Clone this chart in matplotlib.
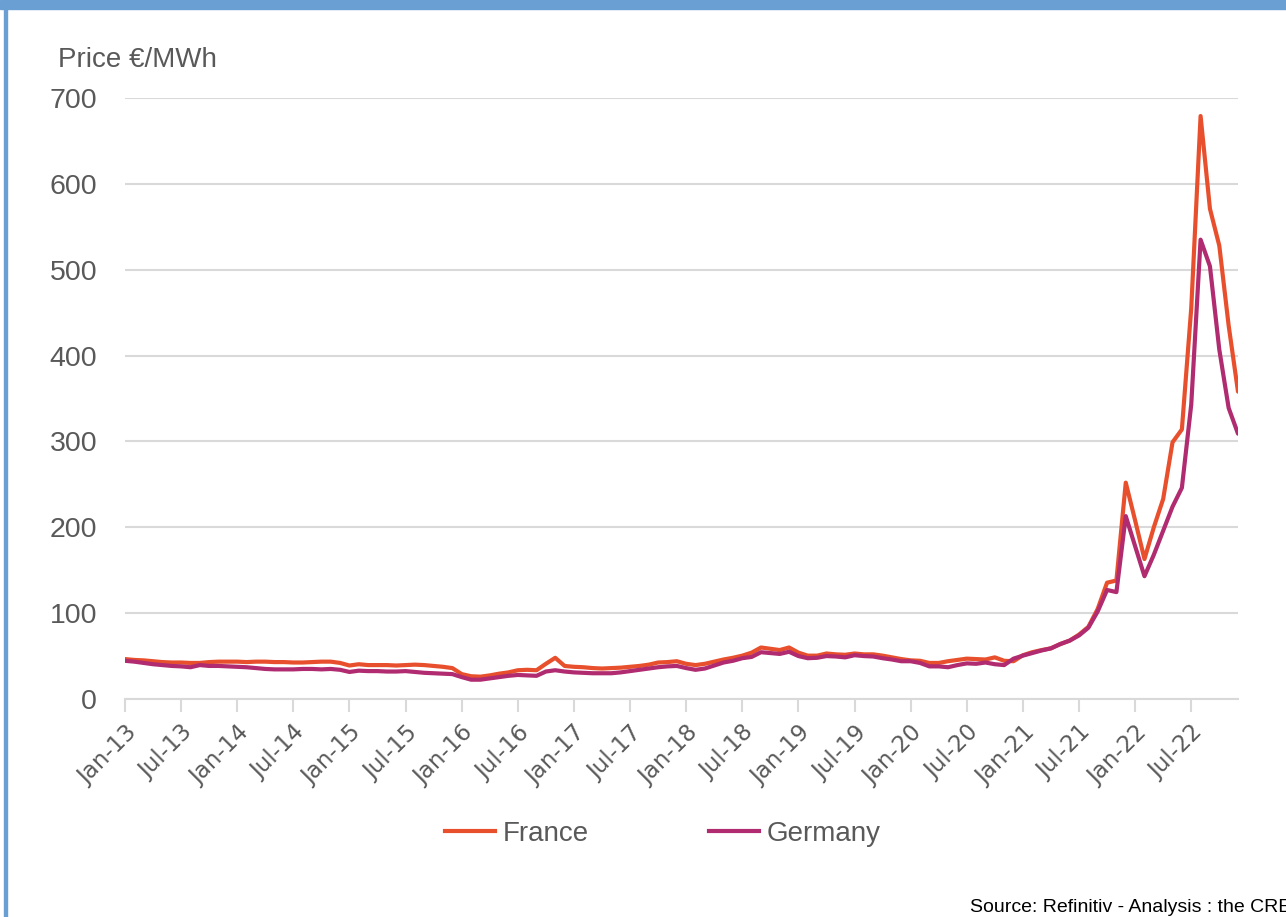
import matplotlib
matplotlib.use("Agg")
import matplotlib.pyplot as plt
from matplotlib.lines import Line2D
import numpy as np

# Monthly wholesale electricity prices, Jan-2013 .. Dec-2022 (EUR/MWh)
months = [f"{m}-{y:02d}" for y in range(13, 23)
          for m in ["Jan", "Feb", "Mar", "Apr", "May", "Jun",
                    "Jul", "Aug", "Sep", "Oct", "Nov", "Dec"]]

france = [
    46.5, 45.5, 45.0, 44.0, 43.0, 42.5, 42.5, 42.0, 42.0, 43.0, 43.5, 43.5,   # 2013
    43.5, 43.0, 43.5, 43.5, 43.0, 43.0, 42.5, 42.5, 43.0, 43.5, 43.5, 42.0,   # 2014
    39.0, 40.5, 39.5, 39.5, 39.5, 39.0, 39.5, 40.0, 39.5, 38.5, 37.5, 36.0,   # 2015
    29.0, 26.5, 26.0, 27.5, 29.5, 31.0, 33.5, 34.0, 33.5, 41.0, 48.0, 38.5,   # 2016
    37.5, 37.0, 36.0, 35.5, 36.0, 36.5, 37.5, 38.5, 40.0, 42.5, 43.0, 44.0,   # 2017
    41.0, 39.5, 41.0, 43.5, 46.0, 48.0, 50.5, 54.0, 60.0, 58.5, 57.0, 60.0,   # 2018
    54.0, 50.5, 50.5, 53.0, 52.0, 51.5, 53.0, 52.0, 52.0, 50.5, 48.5, 46.5,   # 2019
    45.0, 44.5, 42.0, 42.0, 44.0, 45.5, 47.0, 46.5, 46.0, 48.5, 44.5, 44.0,   # 2020
    51.0, 54.5, 57.0, 59.0, 64.0, 68.0, 75.0, 84.0, 105.0, 135.5, 138.0, 252.0,  # 2021
    208.0, 163.0, 200.0, 233.0, 299.0, 314.0, 455.0, 679.0, 571.0, 528.0, 435.0, 358.0,  # 2022
]

germany = [
    44.5, 43.5, 42.0, 40.5, 39.5, 38.5, 38.0, 37.0, 39.5, 38.5, 38.5, 38.0,   # 2013
    37.5, 37.0, 36.0, 35.0, 34.5, 34.5, 34.5, 35.0, 35.0, 34.5, 35.0, 34.0,   # 2014
    31.5, 33.0, 32.5, 32.5, 32.0, 32.0, 32.5, 31.5, 30.5, 30.0, 29.5, 29.0,   # 2015
    25.5, 22.5, 22.5, 24.0, 25.5, 27.0, 28.0, 27.5, 27.0, 32.0, 33.5, 32.0,   # 2016
    31.0, 30.5, 30.0, 30.0, 30.0, 31.0, 32.5, 34.0, 35.5, 37.0, 38.0, 38.5,   # 2017
    36.0, 34.0, 35.5, 39.0, 42.5, 44.5, 47.5, 49.0, 54.5, 53.5, 52.5, 55.0,   # 2018
    50.0, 47.5, 48.0, 50.0, 49.5, 48.5, 51.0, 50.0, 49.5, 47.5, 46.0, 44.0,   # 2019
    44.0, 42.0, 38.0, 38.0, 37.0, 39.5, 41.5, 41.0, 42.5, 40.5, 39.5, 47.0,   # 2020
    50.5, 53.5, 56.5, 59.0, 64.0, 68.0, 74.0, 83.0, 102.0, 127.0, 124.5, 213.0,  # 2021
    178.0, 143.0, 168.0, 196.0, 224.0, 246.0, 343.0, 535.0, 504.0, 407.0, 339.0, 309.0,  # 2022
]

series_names = ["France", "Germany"]
series_colors = ["#E8502D", "#B02B6F"]
y_ticks = [0, 100, 200, 300, 400, 500, 600, 700]
y_label = "Price €/MWh"
source_note = "Source: Refinitiv - Analysis : the CRE"

text_grey = "#595959"
grid_grey = "#D9D9D9"
frame_blue = "#6A9FD4"

plt.rcParams["font.family"] = ["Liberation Sans", "DejaVu Sans"]

fig = plt.figure(figsize=(12.86, 9.17), dpi=100)
ax = fig.add_axes([125 / 1286, 1 - 699 / 917, (1238 - 125) / 1286, (699 - 98) / 917])

x = np.arange(len(months))
for name, vals, col in zip(series_names, [france, germany], series_colors):
    ax.plot(x, vals, color=col, lw=3.0, solid_joinstyle="round",
            solid_capstyle="round", label=name, zorder=3)

ax.set_xlim(0, len(months) - 1)
ax.set_ylim(y_ticks[0], y_ticks[-1])
ax.set_yticks(y_ticks)
ax.yaxis.grid(True, color=grid_grey, lw=1.5)
ax.set_axisbelow(True)
ax.tick_params(axis="y", length=0, pad=20, labelsize=20.5, labelcolor=text_grey)

tick_pos = x[::6]
ax.set_xticks(tick_pos)
ax.set_xticklabels([months[i] for i in tick_pos], rotation=45, ha="right",
                   rotation_mode="anchor", fontsize=16.5, color=text_grey,
                   family=["DejaVu Sans"])
ax.tick_params(axis="x", length=9, width=1.5, color=grid_grey, pad=7,
               direction="out")

for side in ["left", "right", "top"]:
    ax.spines[side].set_visible(False)
ax.spines["bottom"].set_color(grid_grey)
ax.spines["bottom"].set_linewidth(1.5)

fig.text(58 / 1286, 1 - 60 / 917, y_label, fontsize=20, color=text_grey,
         va="center", ha="left")

handles = [Line2D([], [], color=c, lw=3.0) for c in series_colors]
fig.legend(handles, series_names, loc="center", ncol=2,
           bbox_to_anchor=(663 / 1286, 1 - 834 / 917), frameon=False,
           fontsize=20, labelcolor=text_grey, handlelength=1.8,
           handletextpad=0.3, columnspacing=4.3)

fig.text(970 / 1286, 1 - 908 / 917, source_note, fontsize=14, color="black",
         ha="left", va="center")

# blue frame: top band and left rule
fig.patches.append(plt.Rectangle((0, 1 - 9 / 917), 1, 9 / 917,
                                 transform=fig.transFigure, color=frame_blue,
                                 zorder=0))
fig.patches.append(plt.Rectangle((4 / 1286, 0), 3 / 1286, 1,
                                 transform=fig.transFigure, color=frame_blue,
                                 zorder=0))

fig.savefig("out.png", dpi=100, facecolor="white")
